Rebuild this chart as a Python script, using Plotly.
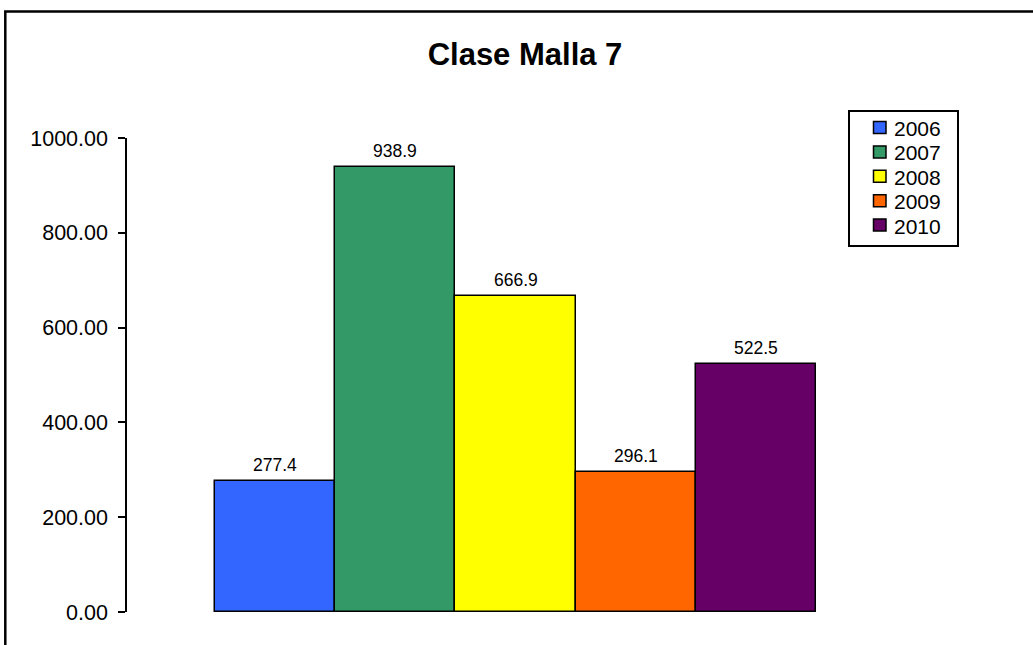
import plotly.graph_objects as go

years = ["2006", "2007", "2008", "2009", "2010"]
values = [277.4, 938.9, 666.9, 296.1, 522.5]
colors = ["#3366FF", "#339966", "#FFFF00", "#FF6600", "#660066"]
y_ticks = [0, 200, 400, 600, 800, 1000]
y_tick_labels = ["0.00", "200.00", "400.00", "600.00", "800.00", "1000.00"]
title_text = "Clase Malla 7"

FONT = "Liberation Sans, Arial"
W, H = 1033, 645
L, R, T, B = 127, 129, 138, 32.5
pw = W - L - R
ph = H - T - B

def px_x(px):
    return (px - L) / pw

def px_y(py):
    return (H - B - py) / ph

fig = go.Figure()
for yr, v, c in zip(years, values, colors):
    fig.add_trace(go.Bar(
        x=[yr], y=[v], name=yr, showlegend=False,
        marker=dict(color=c, line=dict(color="black", width=1.5)),
        hoverinfo="x+y",
    ))

annotations = []
for i, (yr, v) in enumerate(zip(years, values)):
    annotations.append(dict(
        x=i, y=v, xref="x", yref="y", text=f"{v:.1f}", showarrow=False,
        yanchor="bottom", yshift=4,
        font=dict(family=FONT, size=17.5, color="black"),
    ))

# legend (drawn as box + swatches + labels)
shapes = [dict(type="rect", xref="paper", yref="paper",
               x0=px_x(5.3), x1=px_x(1045), y0=px_y(11.3), y1=px_y(660),
               line=dict(color="black", width=2.5), fillcolor="rgba(0,0,0,0)",
               layer="below"),
          dict(type="rect", xref="paper", yref="paper",
               x0=px_x(849), x1=px_x(958), y0=px_y(111), y1=px_y(246),
               line=dict(color="black", width=2), fillcolor="white")]
for i, (yr, c) in enumerate(zip(years, colors)):
    cy = 127.5 + 24.4 * i
    shapes.append(dict(type="rect", xref="paper", yref="paper",
                       x0=px_x(873.5), x1=px_x(886), y0=px_y(cy - 6), y1=px_y(cy + 6),
                       line=dict(color="black", width=1.5), fillcolor=c))
    annotations.append(dict(
        x=px_x(891.5), y=px_y(cy + 1), xref="paper", yref="paper", text=yr,
        showarrow=False, xanchor="left", yanchor="middle",
        font=dict(family=FONT, size=21, color="black"),
    ))

fig.update_layout(
    width=W, height=H,
    margin=dict(l=L, r=R, t=T, b=B, autoexpand=False),
    paper_bgcolor="white", plot_bgcolor="white",
    barmode="relative", bargap=0,
    showlegend=False,
    title=dict(text="<b>" + title_text + "</b>", x=525 / W, xanchor="center",
               y=1 - 54 / H, yanchor="middle",
               font=dict(family=FONT, size=31, color="black")),
    font=dict(family=FONT, color="black"),
    xaxis=dict(
        type="category", range=[-0.5 - (215 - L) / 120.2, 4.5 + (W - R - 816) / 120.2],
        showticklabels=False, showline=False, showgrid=False, zeroline=False, ticks="",
    ),
    yaxis=dict(
        range=[0, 1000], tickvals=y_ticks, ticktext=y_tick_labels,
        showline=True, linecolor="black", linewidth=1.5,
        ticks="outside", ticklen=7, tickwidth=1.5, tickcolor="black",
        showgrid=False, zeroline=False, ticklabelstandoff=6,
        tickfont=dict(family=FONT, size=21.5, color="black"),
    ),
    annotations=annotations,
    shapes=shapes,
)

fig.write_html("out.html", config={"displayModeBar": False},
               post_script="document.body.style.margin='0';document.body.style.overflow='hidden';")
